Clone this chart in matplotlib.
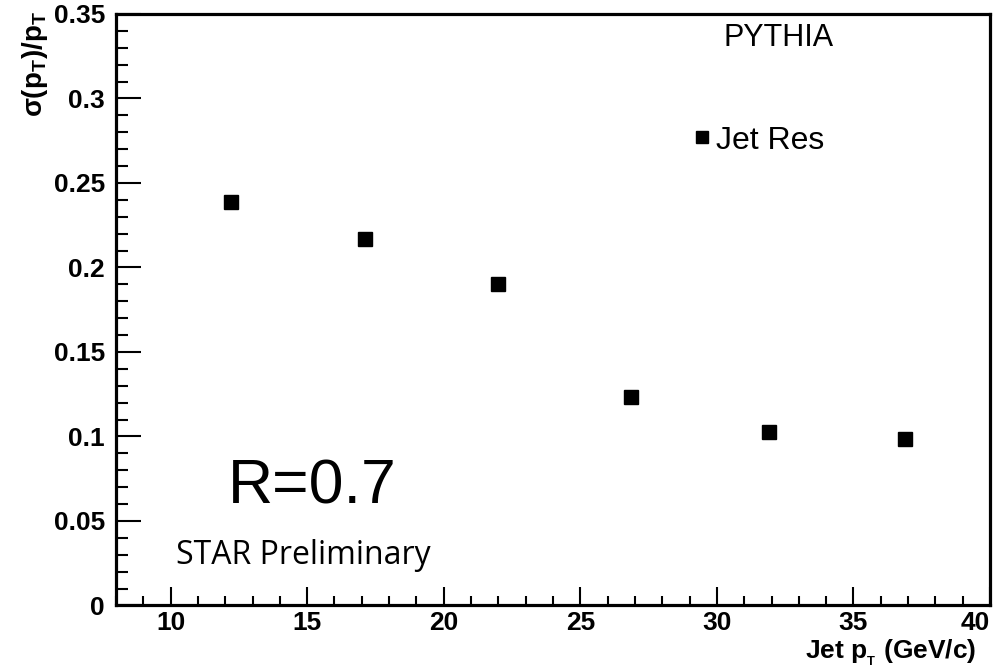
import matplotlib
matplotlib.use("Agg")
import matplotlib.pyplot as plt
from matplotlib.ticker import MultipleLocator

# Jet pT resolution, PYTHIA, R=0.7
jet_pt = [12.2, 17.1, 22.0, 26.85, 31.9, 36.9]
resolution = [0.2385, 0.2167, 0.1901, 0.1231, 0.1028, 0.0983]
x_ticks = [10, 15, 20, 25, 30, 35, 40]
y_ticks = [0, 0.05, 0.1, 0.15, 0.2, 0.25, 0.3, 0.35]
y_ticklabels = ["0", "0.05", "0.1", "0.15", "0.2", "0.25", "0.3", "0.35"]

plt.rcParams['font.family'] = ['Liberation Sans', 'DejaVu Sans']
plt.rcParams['mathtext.fontset'] = 'custom'
plt.rcParams['mathtext.rm'] = 'Liberation Sans:bold'
plt.rcParams['mathtext.it'] = 'Liberation Sans:bold'
plt.rcParams['mathtext.bf'] = 'Liberation Sans:bold'

fig = plt.figure(figsize=(10.06, 6.68), dpi=100)
ax = fig.add_axes([0.1153, 0.0936, 0.8688, 0.8855])

ax.plot(jet_pt, resolution, 's', color='black', markersize=9.5, label='Jet Res')

ax.set_xlim(8, 40)
ax.set_ylim(0, 0.35)
ax.set_xticks(x_ticks)
ax.set_yticks(y_ticks)
ax.set_yticklabels(y_ticklabels)
ax.xaxis.set_minor_locator(MultipleLocator(1))
ax.yaxis.set_minor_locator(MultipleLocator(0.01))

for s in ax.spines.values():
    s.set_linewidth(2.3)

ax.tick_params(axis='both', which='both', direction='in', top=False, right=False)
ax.tick_params(axis='y', which='major', length=18, width=1.5, pad=8)
ax.tick_params(axis='y', which='minor', length=8.5, width=1.5)
ax.tick_params(axis='x', which='major', length=13, width=1.5, pad=4)
ax.tick_params(axis='x', which='minor', length=6.5, width=1.5)
for lab in ax.get_xticklabels() + ax.get_yticklabels():
    lab.set_fontsize(19)
    lab.set_fontweight('bold')
# last x label kept inside the frame, as ROOT does
ax.get_xticklabels()[-1].set_horizontalalignment('right')

ax.set_xlabel(r'Jet p$_{_{T}}$ (GeV/c)', fontsize=19, fontweight='bold', loc='right')
ax.xaxis.set_label_coords(0.985, -0.054)
ax.set_ylabel(r'$\sigma$(p$_{T}$)/p$_{T}$', fontsize=20, fontweight='bold', loc='top')
ax.yaxis.set_label_coords(-0.076, 1.005)

ax.text(0.758, 0.959, 'PYTHIA', transform=ax.transAxes, fontsize=22,
        ha='center', va='center')
ax.legend(loc='center left', bbox_to_anchor=(0.641, 0.786), frameon=False,
          fontsize=23, handlelength=0.6, handletextpad=0.15, borderpad=0,
          markerscale=0.9)

ax.text(0.224, 0.200, 'R=0.7', transform=ax.transAxes, fontsize=45,
        ha='center', va='center')
ax.text(0.2148, 0.085, 'STAR Preliminary', transform=ax.transAxes, fontsize=23,
        ha='center', va='center', family=['Open Sans', 'DejaVu Sans'])

fig.savefig('out.png', dpi=100)
